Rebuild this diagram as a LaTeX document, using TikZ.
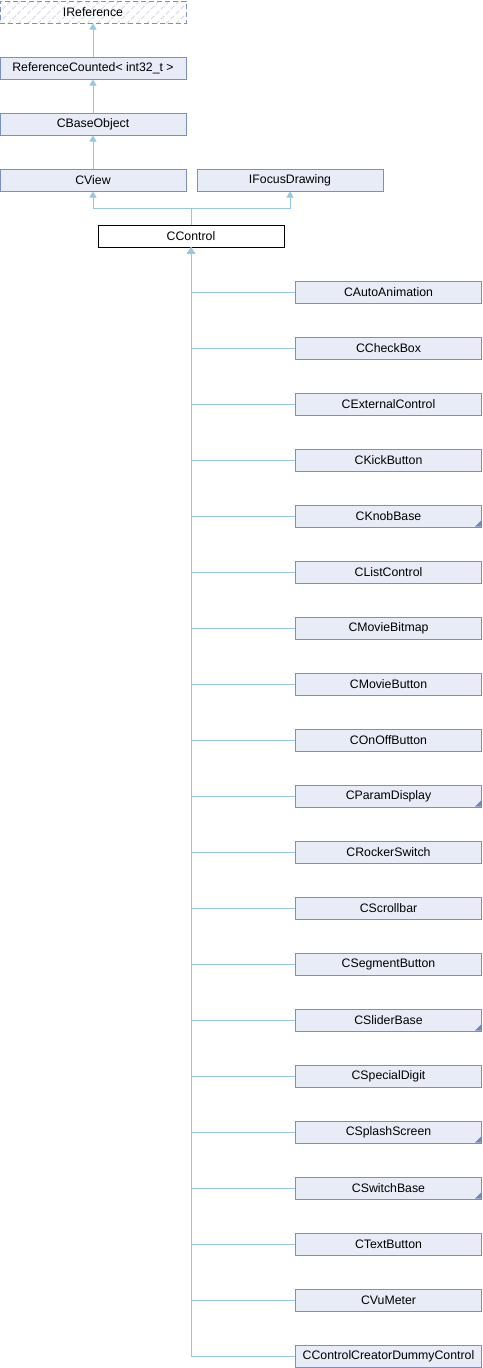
\documentclass[tikz,border=0pt]{standalone}
\usepackage{fontspec}
\setmainfont{Liberation Sans}
\usetikzlibrary{patterns.meta,arrows.meta}

\definecolor{boxedge}{HTML}{7A8FC6}
\definecolor{boxfill}{HTML}{E8ECF6}
\definecolor{link}{HTML}{94C8E4}
\definecolor{hatch}{HTML}{D6DCEA}
\definecolor{cornermark}{HTML}{6F87C4}

\tikzset{
  cls/.style={draw=boxedge, fill=boxfill, line width=1pt, minimum width=186pt,
    minimum height=22pt, inner sep=0pt, font=\fontsize{12.3pt}{14pt}\selectfont},
  current/.style={cls, draw=black, fill=white},
  iface/.style={cls, fill=none, dash pattern=on 5pt off 3pt,
    pattern={Lines[angle=45,distance=7pt,line width=1pt]}, pattern color=hatch},
  inh/.style={draw=link, line width=1pt, -{Triangle[length=6pt,width=7pt]}},
  corner/.style={fill=cornermark},
}

\begin{document}
\begin{tikzpicture}[x=1pt, y=-1pt]
  \useasboundingbox (0,0) rectangle (482,1368);

  % base class chain
  \node[iface] (ireference) at (93,12) {IReference};
  \node[cls] (refcounted) at (93,68) {ReferenceCounted< int32\_t >};
  \node[cls] (cbaseobject) at (93,124) {CBaseObject};
  \node[cls] (cview) at (93,180) {CView};
  \node[cls] (ifocus) at (290,180) {IFocusDrawing};
  \node[current] (ccontrol) at (191,236) {CControl};

  \draw[inh] (refcounted.north) -- (ireference.south);
  \draw[inh] (cbaseobject.north) -- (refcounted.south);
  \draw[inh] (cview.north) -- (cbaseobject.south);

  \coordinate (join) at (191,208);
  \draw[inh] (ccontrol.north) -- (join) -| (cview.south);
  \draw[inh] (join) -| (ifocus.south);

  % derived controls
  \foreach \name/\mark [count=\i] in {
      CAutoAnimation/0, CCheckBox/0, CExternalControl/0, CKickButton/0,
      CKnobBase/1, CListControl/0, CMovieBitmap/0, CMovieButton/0,
      COnOffButton/0, CParamDisplay/1, CRockerSwitch/0, CScrollbar/0,
      CSegmentButton/0, CSliderBase/1, CSpecialDigit/0, CSplashScreen/1,
      CSwitchBase/1, CTextButton/0, CVuMeter/0, CControlCreatorDummyControl/0} {
    \node[cls] (c\i) at (388.5,236+56*\i) {\name};
    \ifnum\mark=1
      \fill[corner] ([shift={(-1pt,1pt)}]c\i.south east) -- ++(-6pt,0pt) -- ++(6pt,6pt) -- cycle;
    \fi
    \draw[inh] (c\i.west) -| (ccontrol.south);
  }
\end{tikzpicture}
\end{document}
